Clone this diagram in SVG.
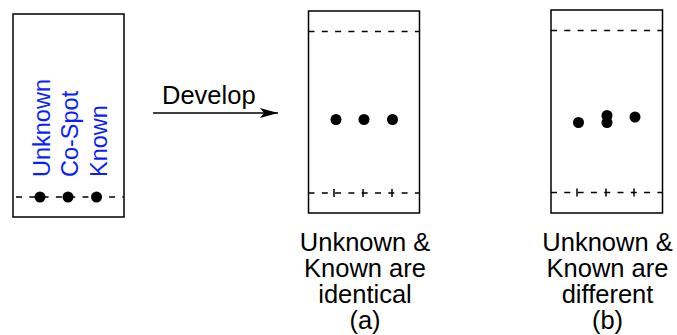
<svg xmlns="http://www.w3.org/2000/svg" width="677" height="335" viewBox="0 0 677 335">
<defs>
<style>
.plate{fill:#fff;stroke:#000;stroke-width:1.5}
.dash{stroke:#000;stroke-width:1.5;stroke-dasharray:6 7.3;fill:none}
.tick{stroke:#000;stroke-width:1.5}
.spot{fill:#000}
.lbl{font-family:"Liberation Sans",Arial,sans-serif;font-size:25.5px;fill:#000;text-anchor:middle}
.blue{font-family:"Liberation Sans",Arial,sans-serif;font-size:23.5px;fill:#0a1eff}
</style>
<marker id="ah" viewBox="0 0 18 10" refX="18" refY="5" markerWidth="18" markerHeight="10" markerUnits="userSpaceOnUse" orient="auto">
<path d="M0,0 L18,5 L0,10 L4,5 Z" fill="#000"/>
</marker>
</defs>
<g id="plate-start">
<rect class="plate" x="13" y="14" width="111" height="203"/>
<line class="dash" x1="13" y1="197" x2="124" y2="197" style="stroke-dashoffset:-3"/>
<circle class="spot" cx="40" cy="197" r="5.5"/>
<circle class="spot" cx="68" cy="197" r="5.5"/>
<circle class="spot" cx="96.5" cy="197" r="5.5"/>
<text class="blue" transform="translate(50,177) rotate(-90)">Unknown</text>
<text class="blue" transform="translate(78,177) rotate(-90)">Co-Spot</text>
<text class="blue" transform="translate(107,177) rotate(-90)">Known</text>
</g>
<g id="connectors">
<line x1="153" y1="113" x2="278" y2="113" stroke="#000" stroke-width="1.3" marker-end="url(#ah)"/>
<text x="162" y="104" font-family="Liberation Sans, Arial, sans-serif" font-size="25.5" fill="#000">Develop</text>
</g>
<g id="plate-a">
<rect class="plate" x="308.5" y="11" width="111" height="202"/>
<line class="dash" x1="308.5" y1="31.5" x2="419.5" y2="31.5"/>
<line class="dash" x1="308.5" y1="193" x2="419.5" y2="193"/>
<line class="tick" x1="334" y1="189" x2="334" y2="197"/>
<line class="tick" x1="363" y1="189" x2="363" y2="197"/>
<line class="tick" x1="392" y1="189" x2="392" y2="197"/>
<circle class="spot" cx="336" cy="119.5" r="5.5"/>
<circle class="spot" cx="364" cy="119.5" r="5.5"/>
<circle class="spot" cx="392.5" cy="119.5" r="5.5"/>
<text class="lbl" x="365" y="251">Unknown &amp;</text>
<text class="lbl" x="365" y="277">Known are</text>
<text class="lbl" x="365" y="303">identical</text>
<text class="lbl" x="365" y="329">(a)</text>
</g>
<g id="plate-b">
<rect class="plate" x="551" y="10" width="111.5" height="203"/>
<line class="dash" x1="551" y1="30.5" x2="662.5" y2="30.5"/>
<line class="dash" x1="551" y1="192.5" x2="662.5" y2="192.5"/>
<line class="tick" x1="577" y1="188.5" x2="577" y2="196.5"/>
<line class="tick" x1="606" y1="188.5" x2="606" y2="196.5"/>
<line class="tick" x1="634" y1="188.5" x2="634" y2="196.5"/>
<circle class="spot" cx="578.5" cy="122.5" r="5.5"/>
<circle class="spot" cx="607" cy="115.5" r="5.5"/>
<circle class="spot" cx="607" cy="122.5" r="5.5"/>
<circle class="spot" cx="635" cy="117" r="5.5"/>
<text class="lbl" x="607.5" y="251">Unknown &amp;</text>
<text class="lbl" x="607.5" y="277">Known are</text>
<text class="lbl" x="607.5" y="303">different</text>
<text class="lbl" x="607.5" y="329">(b)</text>
</g>
</svg>
